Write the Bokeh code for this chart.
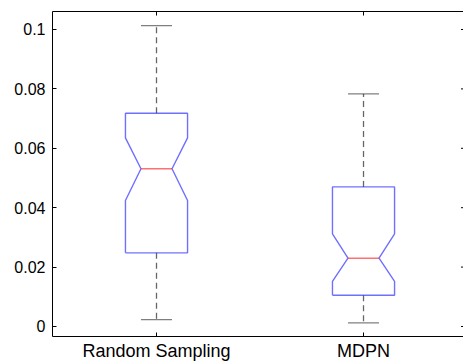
import math
from bokeh.plotting import figure
from bokeh.models import Range1d, FixedTicker, LinearAxis
from bokeh.embed import file_html
from bokeh.resources import INLINE

categories = ["Random Sampling", "MDPN"]
positions = [1, 2]
whisker_low = [0.0023, 0.0012]
q1 = [0.0248, 0.0105]
notch_low = [0.0424, 0.0152]
median = [0.0531, 0.0230]
notch_high = [0.0635, 0.0312]
q3 = [0.0718, 0.0470]
whisker_high = [0.1013, 0.0783]
y_ticks = [0, 0.02, 0.04, 0.06, 0.08, 0.1]
y_tick_labels = ["0", "0.02", "0.04", "0.06", "0.08", "0.1"]

W = 0.15   # box half width
N = 0.075  # notch / cap half width

X0, X1 = 0.4976, 2.483
Y0, Y1 = -0.00337, 0.10606

p = figure(width=463, height=363, output_backend="svg", toolbar_location=None,
           x_range=Range1d(X0, X1), y_range=Range1d(Y0, Y1),
           min_border_left=52, min_border_top=11, min_border_right=0, min_border_bottom=0)
p.outline_line_color = None
p.xgrid.visible = False
p.ygrid.visible = False
p.background_fill_color = "white"
p.border_fill_color = "white"

FONT = "Liberation Sans"
BLUE = "#3333ff"
RED = "#ff3333"

# boxes
for x, lo, nlo, med, nhi, hi, wl, wh in zip(positions, q1, notch_low, median, notch_high, q3,
                                           whisker_low, whisker_high):
    xs = [x - W, x - W, x - N, x - W, x - W, x + W, x + W, x + N, x + W, x + W, x - W]
    ys = [lo, nlo, med, nhi, hi, hi, nhi, med, nlo, lo, lo]
    p.line([x, x], [hi, wh], line_color="#000000", line_alpha=0.6, line_width=1.3, line_dash="6 4")
    p.line([x, x], [lo, wl], line_color="#000000", line_alpha=0.6, line_width=1.3, line_dash="6 4")
    p.line([x - N, x + N], [wh, wh], line_color="#000000", line_alpha=0.5, line_width=1.3)
    p.line([x - N, x + N], [wl, wl], line_color="#000000", line_alpha=0.5, line_width=1.3)
    p.line(xs, ys, line_color=BLUE, line_width=1.4, line_alpha=0.7)
    p.line([x - N, x + N], [med, med], line_color=RED, line_width=1.4, line_alpha=0.7)

# inward ticks on top and right edges
p.scatter(x=positions, y=[Y1] * len(positions), marker="dash", size=8, angle=math.pi / 2,
          line_color="black", line_width=1)
p.scatter(x=[X1] * len(y_ticks), y=y_ticks, marker="dash", size=5,
          line_color="black", line_width=1)

# bottom axis
xa = p.xaxis[0]
xa.ticker = FixedTicker(ticks=positions)
xa.major_label_overrides = {pos: c for pos, c in zip(positions, categories)}
xa.major_label_text_font = FONT
xa.major_label_text_font_size = "18px"
xa.major_label_text_color = "black"
xa.major_label_standoff = 4
xa.major_tick_in = 4
xa.major_tick_out = 0
xa.minor_tick_line_color = None
xa.axis_line_color = "black"
xa.major_tick_line_color = "black"

# left axis
ya = p.yaxis[0]
ya.ticker = FixedTicker(ticks=y_ticks)
ya.major_label_overrides = {t: l for t, l in zip(y_ticks, y_tick_labels)}
ya.major_label_text_font = FONT
ya.major_label_text_font_size = "16px"
ya.major_label_text_color = "black"
ya.major_label_standoff = 7
ya.major_tick_in = 4
ya.major_tick_out = 0
ya.minor_tick_line_color = None
ya.axis_line_color = "black"
ya.major_tick_line_color = "black"

# top spine (line only)
ta = LinearAxis(ticker=FixedTicker(ticks=[]), major_tick_in=0, major_tick_out=0,
                major_label_standoff=0, minor_tick_line_color=None, axis_line_color="black")
p.add_layout(ta, "above")

open("out.html", "w").write(file_html(p, INLINE))
